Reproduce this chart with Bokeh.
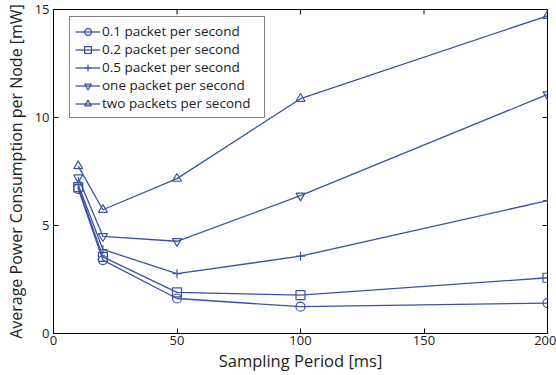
from bokeh.plotting import figure
from bokeh.models import Legend, LegendItem, FixedTicker, Range1d
from bokeh.embed import file_html
from bokeh.resources import INLINE

x = [10, 20, 50, 100, 200]
s01 = [6.70, 3.40, 1.62, 1.24, 1.41]
s02 = [6.78, 3.55, 1.90, 1.78, 2.58]
s05 = [6.90, 3.89, 2.77, 3.58, 6.15]
s1 = [7.22, 4.50, 4.27, 6.38, 11.07]
s2 = [7.75, 5.73, 7.17, 10.87, 14.71]
names = ["0.1 packet per second", "0.2 packet per second", "0.5 packet per second",
         "one packet per second", "two packets per second"]
markers = ["circle", "square", "cross", "inverted_triangle", "triangle"]
xticks = [0, 50, 100, 150, 200]
yticks = [0, 5, 10, 15]
xlabel = "Sampling Period [ms]"
ylabel = "Average Power Consumption per Node [mW]"

color = "#3a52a4"
FONT = "Open Sans"
TXT = "#222222"

W, H = 556, 375
BL, BR, BT, BB = 53, 9, 9, 42
X0, X1, Y0, Y1 = 0, 200, 0, 15

p = figure(width=W, height=H, output_backend="svg", toolbar_location=None,
           x_range=Range1d(X0, X1), y_range=Range1d(Y0, Y1),
           min_border_left=BL, min_border_right=BR, min_border_top=BT, min_border_bottom=BB)
p.xgrid.visible = False
p.ygrid.visible = False
p.outline_line_color = "black"
p.outline_line_width = 1
p.background_fill_color = "white"
p.border_fill_color = "white"

for ax, ticks in ((p.xaxis[0], xticks), (p.yaxis[0], yticks)):
    ax.ticker = FixedTicker(ticks=ticks)
    ax.major_tick_in = 5
    ax.major_tick_out = 0
    ax.minor_tick_line_color = None
    ax.axis_line_color = "black"
    ax.major_tick_line_color = "black"
    ax.major_label_text_font = FONT
    ax.major_label_text_font_size = "13px"
    ax.major_label_text_color = TXT
    ax.axis_label_text_font = FONT
    ax.axis_label_text_font_size = "16px"
    ax.axis_label_text_font_style = "normal"
    ax.axis_label_text_color = TXT

p.xaxis[0].axis_label = xlabel
p.yaxis[0].axis_label = ylabel
p.xaxis[0].axis_label_text_font_size = "16.5px"
p.xaxis[0].major_label_standoff = 2
p.xaxis[0].axis_label_standoff = 1
p.yaxis[0].major_label_standoff = 4
p.yaxis[0].axis_label_standoff = 5

fw = W - BL - BR
fh = H - BT - BB

# mirrored inward ticks on top and right edges
tx = 5 * (X1 - X0) / fw
ty = 5 * (Y1 - Y0) / fh
p.segment(x0=xticks, y0=[Y1] * len(xticks), x1=xticks, y1=[Y1 - ty] * len(xticks),
          line_color="black", line_width=1)
p.segment(x0=[X1] * len(yticks), y0=yticks, x1=[X1 - tx] * len(yticks), y1=yticks,
          line_color="black", line_width=1)

items = []
for ys, nm, mk in zip([s01, s02, s05, s1, s2], names, markers):
    l = p.line(x, ys, line_color=color, line_width=1.3)
    m = p.scatter(x, ys, marker=mk, size=9, line_color=color, fill_color=None, line_width=1.2)
    items.append(LegendItem(label=nm, renderers=[l, m]))

legend = Legend(items=items, location=(16, fh - 9 - 95 - 5))
legend.label_text_font = FONT
legend.label_text_font_size = "13.5px"
legend.label_text_color = TXT
legend.border_line_color = "black"
legend.border_line_width = 1
legend.margin = 0
legend.padding = 5
legend.spacing = 0
legend.label_height = 14
legend.glyph_height = 17
legend.glyph_width = 25
legend.label_standoff = 2
legend.label_width = 157
p.add_layout(legend)

open("out.html", "w").write(file_html(p, INLINE))
